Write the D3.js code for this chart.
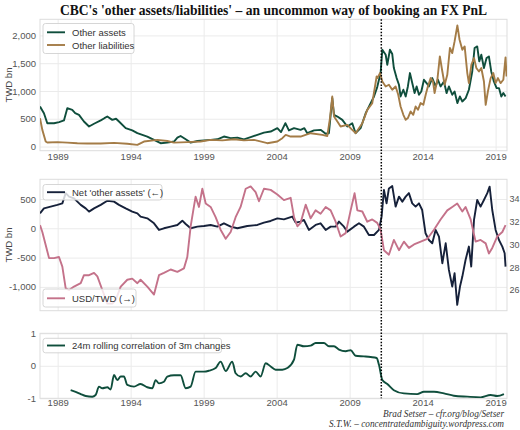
<!DOCTYPE html>
<html>
<head>
<meta charset="utf-8">
<script src="https://cdn.jsdelivr.net/npm/d3@7"></script>
<style>
  body { margin: 0; background: #fff; }
  text { font-family: "Liberation Sans", Arial, sans-serif; }
</style>
</head>
<body>
<svg id="chart" width="520" height="430"></svg>
<script>
// tick labels
const yearTicks = [1989, 1994, 1999, 2004, 2009, 2014, 2019]
const topTicks = [0, 500, 1000, 1500, 2000]
const midTicks = [-1000, -500, 0, 500]
const fxTicks = [26, 28, 30, 32, 34]
const corrTicks = [-1, 0, 1]
const breakYear = 2011.17

// series, [decimal year, value]
const otherAssets = [
  [1987.79,720],[1988.06,600],[1988.29,420],[1988.75,420],[1989.10,440],[1989.43,470],[1989.66,690],[1990.00,660],
  [1990.20,600],[1990.46,570],[1990.80,450],[1991.15,360],[1991.49,410],[1991.95,470],[1992.20,510],[1992.40,540],
  [1992.74,480],[1993.00,500],[1993.20,450],[1993.66,330],[1994.11,290],[1994.46,240],[1994.80,210],[1995.14,180],
  [1995.60,120],[1996.05,60],[1996.51,70],[1996.97,90],[1997.20,160],[1997.42,190],[1997.77,130],[1998.11,70],
  [1998.57,100],[1999.02,110],[1999.48,120],[1999.94,130],[2000.39,180],[2000.85,150],[2001.31,160],[2001.76,130],
  [2002.22,170],[2002.68,210],[2003.13,250],[2003.59,270],[2004.05,330],[2004.30,260],[2004.60,420],[2004.84,290],
  [2005.19,330],[2005.64,300],[2005.90,330],[2006.10,240],[2006.56,290],[2007.01,300],[2007.36,230],[2007.58,240],
  [2007.81,870],[2007.93,570],[2008.16,540],[2008.50,480],[2008.84,360],[2009.18,420],[2009.41,240],[2009.75,330],
  [2010.10,600],[2010.44,780],[2010.67,900],[2010.89,1070],[2011.12,1322],[2011.24,1742],[2011.47,1652],[2011.58,1472],
  [2011.76,1742],[2011.92,1665],[2012.03,1413],[2012.22,1232],[2012.38,1112],[2012.49,901],[2012.68,1022],[2012.84,901],
  [2012.99,1081],[2013.13,1322],[2013.29,1142],[2013.45,962],[2013.59,1081],[2013.75,932],[2013.91,991],[2014.09,1202],
  [2014.27,1142],[2014.43,1081],[2014.66,1232],[2014.89,1081],[2015.05,1202],[2015.23,1081],[2015.46,1171],[2015.64,962],
  [2015.80,1081],[2016.03,932],[2016.19,991],[2016.38,782],[2016.55,901],[2016.72,811],[2016.95,872],[2017.17,1022],
  [2017.40,1351],[2017.56,1773],[2017.74,1802],[2017.88,1532],[2018.02,1652],[2018.20,1413],[2018.38,1593],[2018.54,1622],
  [2018.70,1351],[2018.88,1171],[2019.07,1052],[2019.23,1052],[2019.39,901],[2019.53,962],[2019.68,901]
]

const otherLiabilities = [
  [1987.79,510],[1987.95,300],[1988.18,90],[1988.29,72],[1988.98,80],[1989.66,70],[1990.35,60],[1991.03,55],
  [1991.95,55],[1992.86,65],[1993.77,50],[1994.46,30],[1994.91,90],[1995.83,120],[1996.51,100],[1996.97,70],
  [1997.88,80],[1998.79,90],[1999.48,120],[2000.28,110],[2001.08,130],[2001.76,110],[2002.45,120],[2003.36,60],
  [2004.05,90],[2004.39,150],[2004.62,210],[2004.96,180],[2005.64,180],[2006.33,240],[2007.13,210],[2007.47,190],
  [2007.65,500],[2007.81,900],[2007.93,540],[2008.16,450],[2008.38,360],[2008.84,390],[2009.18,300],[2009.41,240],
  [2009.87,420],[2010.21,660],[2010.55,780],[2010.85,1260],[2010.90,1232],[2011.08,1322],[2011.24,1171],[2011.47,1081],
  [2011.69,1112],[2011.92,1022],[2012.15,1081],[2012.33,932],[2012.49,721],[2012.68,571],[2012.84,481],[2012.99,512],
  [2013.18,631],[2013.36,571],[2013.52,721],[2013.68,661],[2013.86,782],[2014.05,751],[2014.21,932],[2014.36,1081],
  [2014.55,1232],[2014.71,1171],[2014.82,962],[2015.01,1202],[2015.18,1622],[2015.35,1351],[2015.51,1112],[2015.69,1292],
  [2015.87,1773],[2016.03,1683],[2016.19,1892],[2016.38,2180],[2016.53,1922],[2016.72,1742],[2016.88,1802],[2017.06,1322],
  [2017.17,1142],[2017.34,1472],[2017.52,1593],[2017.68,1413],[2017.86,1351],[2018.02,1413],[2018.20,1171],[2018.32,751],
  [2018.47,991],[2018.66,1232],[2018.84,1322],[2019.00,1142],[2019.16,1232],[2019.34,1142],[2019.53,1202],[2019.68,1604],
  [2019.75,1262]
]

const netOtherAssets = [
  [1987.79,256],[1988.06,340],[1988.52,370],[1988.98,400],[1989.32,425],[1989.55,600],[1989.78,540],[1990.12,510],
  [1990.58,400],[1990.92,340],[1991.15,285],[1991.49,340],[1991.95,400],[1992.40,470],[1992.86,455],[1993.20,400],
  [1993.66,340],[1994.11,285],[1994.46,256],[1994.68,200],[1995.14,170],[1995.60,85],[1995.94,-28],[1996.28,0],
  [1996.74,28],[1997.20,57],[1997.54,130],[1997.77,74],[1998.11,0],[1998.57,28],[1999.02,40],[1999.48,57],
  [1999.94,28],[2000.39,85],[2000.85,28],[2001.31,0],[2001.99,40],[2002.68,57],[2003.13,97],[2003.59,125],
  [2004.05,170],[2004.50,153],[2005.07,200],[2005.30,97],[2005.64,114],[2005.87,142],[2006.21,-28],[2006.67,57],
  [2007.01,85],[2007.36,-28],[2007.70,28],[2008.04,28],[2008.27,114],[2008.61,28],[2008.84,-57],[2009.30,28],
  [2009.64,85],[2009.98,28],[2010.32,-114],[2010.67,-114],[2011.01,-28],[2011.19,200],[2011.35,653],[2011.53,426],
  [2011.69,680],[2011.92,720],[2012.15,370],[2012.38,540],[2012.61,455],[2012.84,540],[2013.06,600],[2013.29,426],
  [2013.52,370],[2013.75,426],[2013.97,312],[2014.20,-85],[2014.43,-200],[2014.66,-256],[2014.89,-28],[2015.12,-142],
  [2015.35,-596],[2015.58,-256],[2015.80,-710],[2016.03,-994],[2016.19,-767],[2016.37,-1306],[2016.56,-994],[2016.72,-824],
  [2016.94,-540],[2017.17,-312],[2017.33,-653],[2017.52,142],[2017.74,483],[2017.97,370],[2018.20,483],[2018.43,600],
  [2018.59,710],[2018.77,312],[2019.00,-28],[2019.23,-200],[2019.46,-312],[2019.62,-426],[2019.68,-653]
]

const usdTwd = [
  [1987.79,31.7],[1987.95,31.1],[1988.18,29.96],[1988.41,28.8],[1988.75,28.8],[1989.09,28.9],[1989.32,28.05],[1989.55,26.15],
  [1989.78,26.0],[1990.12,26.3],[1990.58,26.6],[1990.80,27.3],[1991.15,27.3],[1991.49,27.5],[1991.72,27.2],[1992.06,26.0],
  [1992.40,24.8],[1992.74,24.8],[1992.97,25.1],[1993.32,26.3],[1993.77,26.9],[1994.11,27.0],[1994.46,26.6],[1994.68,26.9],
  [1995.14,26.3],[1995.60,25.6],[1995.94,27.3],[1996.28,27.5],[1996.74,27.8],[1997.20,27.6],[1997.65,27.9],[1997.88,28.9],
  [1998.11,31.6],[1998.29,33.0],[1998.45,34.2],[1998.68,33.3],[1998.91,34.9],[1999.14,33.6],[1999.48,33.3],[1999.82,32.4],
  [2000.16,31.3],[2000.51,30.5],[2000.85,31.1],[2001.19,32.4],[2001.53,33.3],[2001.88,34.9],[2002.22,35.1],[2002.56,34.6],
  [2002.79,33.8],[2003.13,34.9],[2003.59,34.8],[2004.05,34.4],[2004.50,33.9],[2004.96,34.1],[2005.19,32.4],[2005.42,31.6],
  [2005.64,31.9],[2005.99,33.5],[2006.33,32.3],[2006.67,33.0],[2007.01,32.7],[2007.36,33.3],[2007.70,33.0],[2008.04,32.0],
  [2008.38,30.7],[2008.73,31.0],[2009.07,33.0],[2009.34,34.5],[2009.53,33.0],[2009.87,32.9],[2010.21,32.0],[2010.55,32.2],
  [2010.89,31.9],[2011.12,31.3],[2011.35,29.5],[2011.69,29.1],[2012.03,30.4],[2012.38,29.5],[2012.72,30.25],[2013.06,29.7],
  [2013.41,30.0],[2013.87,30.25],[2014.32,30.5],[2014.78,31.3],[2015.23,32.2],[2015.69,33.0],[2016.03,33.3],[2016.37,33.6],
  [2016.72,32.9],[2016.94,33.3],[2017.29,32.2],[2017.63,30.25],[2017.97,30.4],[2018.32,30.1],[2018.54,29.2],[2018.77,29.7],
  [2019.11,30.7],[2019.46,31.1],[2019.68,31.7]
]

const rollingCorr = [
  [1989.89,-0.75],[1990.23,-0.80],[1990.58,-0.87],[1990.92,-0.93],[1991.37,-0.95],[1991.60,-0.90],[1991.83,-0.64],[1992.06,-0.69],
  [1992.40,-0.66],[1992.63,-0.73],[1992.86,-0.28],[1993.09,-0.44],[1993.32,-0.33],[1993.54,-0.33],[1993.77,-0.59],[1994.23,-0.64],
  [1994.68,-0.56],[1995.14,-0.66],[1995.48,-0.69],[1995.71,-0.44],[1995.94,-0.54],[1996.28,-0.49],[1996.51,-0.33],[1996.97,-0.29],
  [1997.42,-0.29],[1997.77,-0.69],[1998.11,-0.64],[1998.45,-0.18],[1999.02,-0.18],[1999.37,-0.15],[1999.82,-0.07],[2000.16,0.13],
  [2000.51,-0.16],[2000.96,0.13],[2001.19,-0.23],[2001.53,-0.33],[2001.88,-0.23],[2002.22,-0.33],[2002.56,-0.18],[2002.90,-0.33],
  [2003.25,0.08],[2003.59,-0.02],[2003.93,-0.12],[2004.39,-0.12],[2004.73,-0.07],[2005.19,0.19],[2005.42,0.65],[2005.87,0.60],
  [2006.33,0.62],[2006.67,0.70],[2007.24,0.70],[2007.58,0.60],[2007.93,0.60],[2008.27,0.50],[2008.73,0.45],[2009.07,0.48],
  [2009.41,0.31],[2009.98,0.29],[2010.44,0.27],[2010.85,0.24],[2011.01,0.03],[2011.24,-0.44],[2011.58,-0.56],[2012.03,-0.75],
  [2012.72,-0.85],[2013.63,-0.87],[2014.09,-0.80],[2014.78,-0.80],[2015.46,-0.85],[2016.14,-0.92],[2017.06,-0.95],[2017.97,-0.97],
  [2018.66,-0.90],[2019.11,-0.93],[2019.57,-0.87]
]

const colors = { assets: '#0f4e3c', liabs: '#a47c47', net: '#16213a', fx: '#c4728a' }
const fontSize = 9.5

const svg = d3.select('#chart')
const L = 40, R = 507
const x = d3.scaleLinear().domain([1987.79, 2019.78]).range([L, R])
const fmt = v => d3.format(',')(v).replace('\u2212', '-')

// one panel: grid + ticks + frame, returns its clip id
function frame(id, y, ticks, top, bottom, xPad) {
  const gx = svg.append('g')
    .attr('transform', `translate(0,${bottom})`)
    .call(d3.axisBottom(x).tickValues(yearTicks).tickFormat(d3.format('d'))
      .tickSize(-(bottom - top)).tickPadding(xPad || 0))
  const gy = svg.append('g')
    .attr('transform', `translate(${L},0)`)
    .call(d3.axisLeft(y).tickValues(ticks).tickFormat(fmt).tickSize(-(R - L)).tickPadding(4))
  ;[gx, gy].forEach(g => {
    g.select('.domain').remove()
    g.selectAll('line').attr('stroke', '#ebebeb').attr('stroke-width', 1)
    g.selectAll('text').attr('fill', '#555').style('font-size', fontSize + 'px')
  })
  if (xPad === null) gx.selectAll('text').remove()

  svg.append('rect')
    .attr('x', L).attr('y', top).attr('width', R - L).attr('height', bottom - top)
    .attr('fill', 'none').attr('stroke', '#dddddd').attr('stroke-width', 1)

  svg.append('clipPath').attr('id', id)
    .append('rect').attr('x', L).attr('y', top).attr('width', R - L).attr('height', bottom - top)
  return id
}

function drawLine(data, y, color, clip, curve) {
  svg.append('path')
    .datum(data)
    .attr('clip-path', `url(#${clip})`)
    .attr('fill', 'none')
    .attr('stroke', color)
    .attr('stroke-width', 1.9)
    .attr('stroke-linejoin', 'round')
    .attr('d', d3.line().x(d => x(d[0])).y(d => y(d[1])).curve(curve || d3.curveLinear))
}

function legend(bx, by, bw, bh, items) {
  svg.append('rect')
    .attr('x', bx).attr('y', by).attr('width', bw).attr('height', bh).attr('rx', 2.5)
    .attr('fill', '#fff').attr('fill-opacity', 0.8)
    .attr('stroke', '#cccccc').attr('stroke-width', 0.8)
  items.forEach(it => {
    svg.append('line')
      .attr('x1', bx + 4).attr('x2', bx + 22).attr('y1', it.y).attr('y2', it.y)
      .attr('stroke', it.color).attr('stroke-width', 1.9)
    svg.append('text')
      .attr('x', bx + 29).attr('y', it.y).attr('dominant-baseline', 'central')
      .attr('fill', '#333').style('font-size', fontSize + 'px')
      .text(it.label)
  })
}

function yLabel(top, bottom) {
  svg.append('text')
    .attr('transform', `translate(8,${(top + bottom) / 2}) rotate(-90)`)
    .attr('text-anchor', 'middle').attr('dominant-baseline', 'central')
    .attr('fill', '#444').style('font-size', fontSize + 'px')
    .text('TWD bn')
}

// top panel
const p1 = { top: 19.3, bottom: 150.7 }
const y1 = d3.scaleLinear().domain([-75, 2290]).range([p1.bottom, p1.top])
const c1 = frame('c1', y1, topTicks, p1.top, p1.bottom, 3)
drawLine(otherAssets, y1, colors.assets, c1)
drawLine(otherLiabilities, y1, colors.liabs, c1)
legend(43, 23.5, 91, 30, [
  { label: 'Other assets', color: colors.assets, y: 32.3 },
  { label: 'Other liabilities', color: colors.liabs, y: 45 }
])
yLabel(p1.top, p1.bottom)

// middle panel
const p2 = { top: 179.3, bottom: 310.7 }
const y2 = d3.scaleLinear().domain([-1406, 836]).range([p2.bottom, p2.top])
const y2r = d3.scaleLinear().domain([24.18, 35.73]).range([p2.bottom, p2.top])
const c2 = frame('c2', y2, midTicks, p2.top, p2.bottom, null)
const gr = svg.append('g')
  .attr('transform', `translate(${R},0)`)
  .call(d3.axisRight(y2r).tickValues(fxTicks).tickSize(0).tickPadding(2.5))
gr.select('.domain').remove()
gr.selectAll('text').attr('fill', '#555').style('font-size', '9px')
drawLine(netOtherAssets, y2, colors.net, c2)
drawLine(usdTwd, y2r, colors.fx, c2)
legend(43, 184.5, 119, 15.5, [
  { label: "Net 'other assets'  (\u2190)", color: colors.net, y: 192.2 }
])
legend(43, 289, 93, 18, [
  { label: 'USD/TWD  (\u2192)', color: colors.fx, y: 298.3 }
])
yLabel(p2.top, p2.bottom)

// bottom panel
const p3 = { top: 333.3, bottom: 398.3 }
const y3 = d3.scaleLinear().domain([-1, 1]).range([p3.bottom, p3.top])
const c3 = frame('c3', y3, corrTicks, p3.top, p3.bottom, 0.5)
drawLine(rollingCorr, y3, colors.assets, c3, d3.curveMonotoneX)
legend(43, 338.3, 178.5, 14.5, [
  { label: '24m rolling correlation of 3m changes', color: colors.assets, y: 345.5 }
])

// regime break marker across all panels
svg.append('line')
  .attr('x1', x(breakYear)).attr('x2', x(breakYear))
  .attr('y1', p1.top).attr('y2', p3.bottom)
  .attr('stroke', '#000').attr('stroke-width', 1.5)
  .attr('stroke-dasharray', '1.5,1.6')

// title and credits
svg.append('text')
  .attr('x', 273.5).attr('y', 14.5).attr('text-anchor', 'middle')
  .attr('textLength', 427).attr('lengthAdjust', 'spacingAndGlyphs')
  .style('font-family', '"Liberation Serif", "DejaVu Serif", serif')
  .style('font-weight', 'bold').style('font-size', '14.5px').attr('fill', '#111')
  .text("CBC's 'other assets/liabilities' \u2013 an uncommon way of booking an FX PnL")

const credits = [
  { text: 'Brad Setser \u2013 cfr.org/blog/Setser', y: 413, len: 121 },
  { text: 'S.T.W. \u2013 concentratedambiguity.wordpress.com', y: 423, len: 175 }
]
credits.forEach(c => {
  svg.append('text')
    .attr('x', 504).attr('y', c.y).attr('text-anchor', 'end').attr('dominant-baseline', 'central')
    .attr('textLength', c.len).attr('lengthAdjust', 'spacingAndGlyphs')
    .style('font-family', '"Liberation Serif", "DejaVu Serif", serif')
    .style('font-style', 'italic').style('font-size', '10px').attr('fill', '#333')
    .text(c.text)
})
</script>
</body>
</html>
